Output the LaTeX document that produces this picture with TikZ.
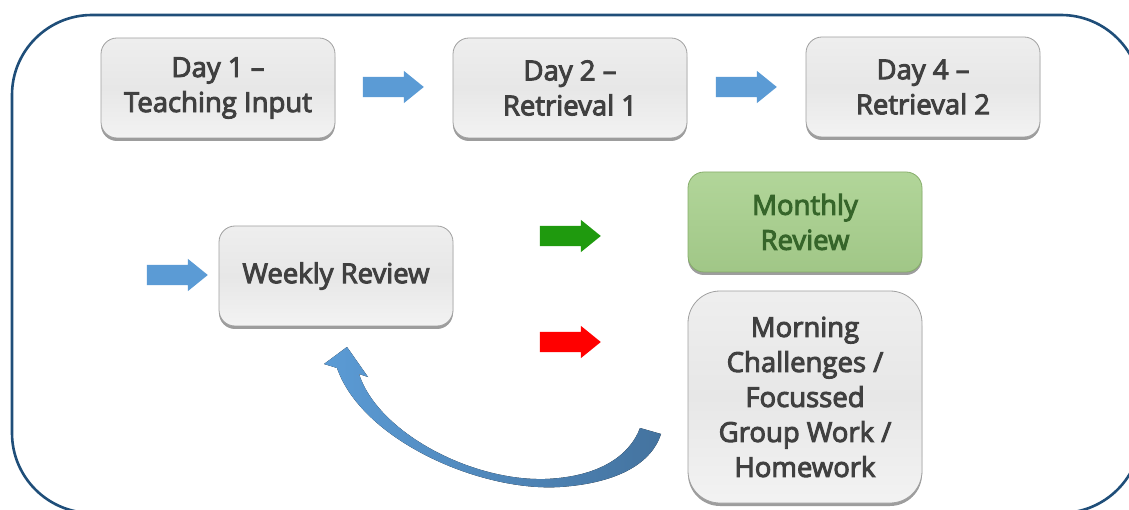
\documentclass[tikz,border=0pt]{standalone}
\usepackage{fontspec}
\setmainfont{Open Sans}
\newfontfamily\semib{Open Sans}[FakeBold=3.5]
\usetikzlibrary{shapes.arrows,shadows}
\definecolor{frameblue}{HTML}{1F4E79}
\definecolor{arrblue}{HTML}{5B9BD5}
\definecolor{arrblued}{HTML}{44739F}
\definecolor{arrgreen}{HTML}{1F9A0E}
\definecolor{arrred}{HTML}{FF0000}
\definecolor{boxgray}{HTML}{E7E7E7}
\definecolor{boxedge}{HTML}{A0A0A0}
\definecolor{txtgray}{HTML}{404040}
\definecolor{mgreen}{HTML}{A9D18E}
\definecolor{mgreenedge}{HTML}{86AD6A}
\definecolor{mgreentxt}{HTML}{36652A}
\tikzset{
  stagebox/.style={draw=boxedge, line width=0.8pt, rounded corners=16pt,
    top color=boxgray!70, bottom color=boxgray!105!black, middle color=boxgray,
    minimum width=234pt, minimum height=100pt, align=center, text=txtgray,
    font=\semib\fontsize{27.5}{35}\selectfont,
    drop shadow={shadow xshift=0pt, shadow yshift=-3pt, opacity=0.55, fill=black!70}},
  blockarrow/.style={single arrow, draw=none, minimum height=61pt, inner xsep=0pt,
    inner ysep=10pt, single arrow head extend=6pt, single arrow tip angle=78},
}
\begin{document}
\begin{tikzpicture}[x=1pt,y=-1pt]
\useasboundingbox (0,0) rectangle (1129,510);
\clip (0,0) rectangle (1129,510);
\draw[frameblue, line width=2.6pt, rounded corners=80pt] (12,15) rectangle (1141,513);

\node[stagebox] (d1) at (218,88) {Day 1 –\\Teaching Input};
\node[stagebox] (d2) at (570,88) {Day 2 –\\Retrieval 1};
\node[stagebox] (d4) at (923,87) {Day 4 –\\Retrieval 2};
\node[stagebox] (wr) at (336,276) {Weekly Review};
\node[stagebox, draw=mgreenedge, top color=mgreen!90, middle color=mgreen, bottom color=mgreen!95!black, text=mgreentxt] (mr) at (805,222) {Monthly\\Review};
\node[stagebox, minimum height=212pt, rounded corners=32pt] (mc) at (805,397) {Morning\\Challenges /\\Focussed\\Group Work /\\Homework};

\node[blockarrow, fill=arrblue] (a1) at (387,87) {};
\node[blockarrow, fill=arrblue] (a2) at (740,87) {};
\node[blockarrow, fill=arrblue] (a3) at (171,275) {};
\node[blockarrow, fill=arrgreen] (a4) at (564,236) {};
\node[blockarrow, fill=arrred] (a5) at (564,342) {};

% curved return arrow
\fill[left color=arrblue, right color=arrblued]
  (337,368) .. controls (362,440) and (480,492) .. (560,487)
  .. controls (620,483) and (652,462) .. (661,434)
  -- (640,428)
  .. controls (630,455) and (600,477) .. (545,479)
  .. controls (470,481) and (378,432) .. (359,374)
  -- (368,377) -- (347,347) -- (324,364) -- cycle;
\end{tikzpicture}
\end{document}
